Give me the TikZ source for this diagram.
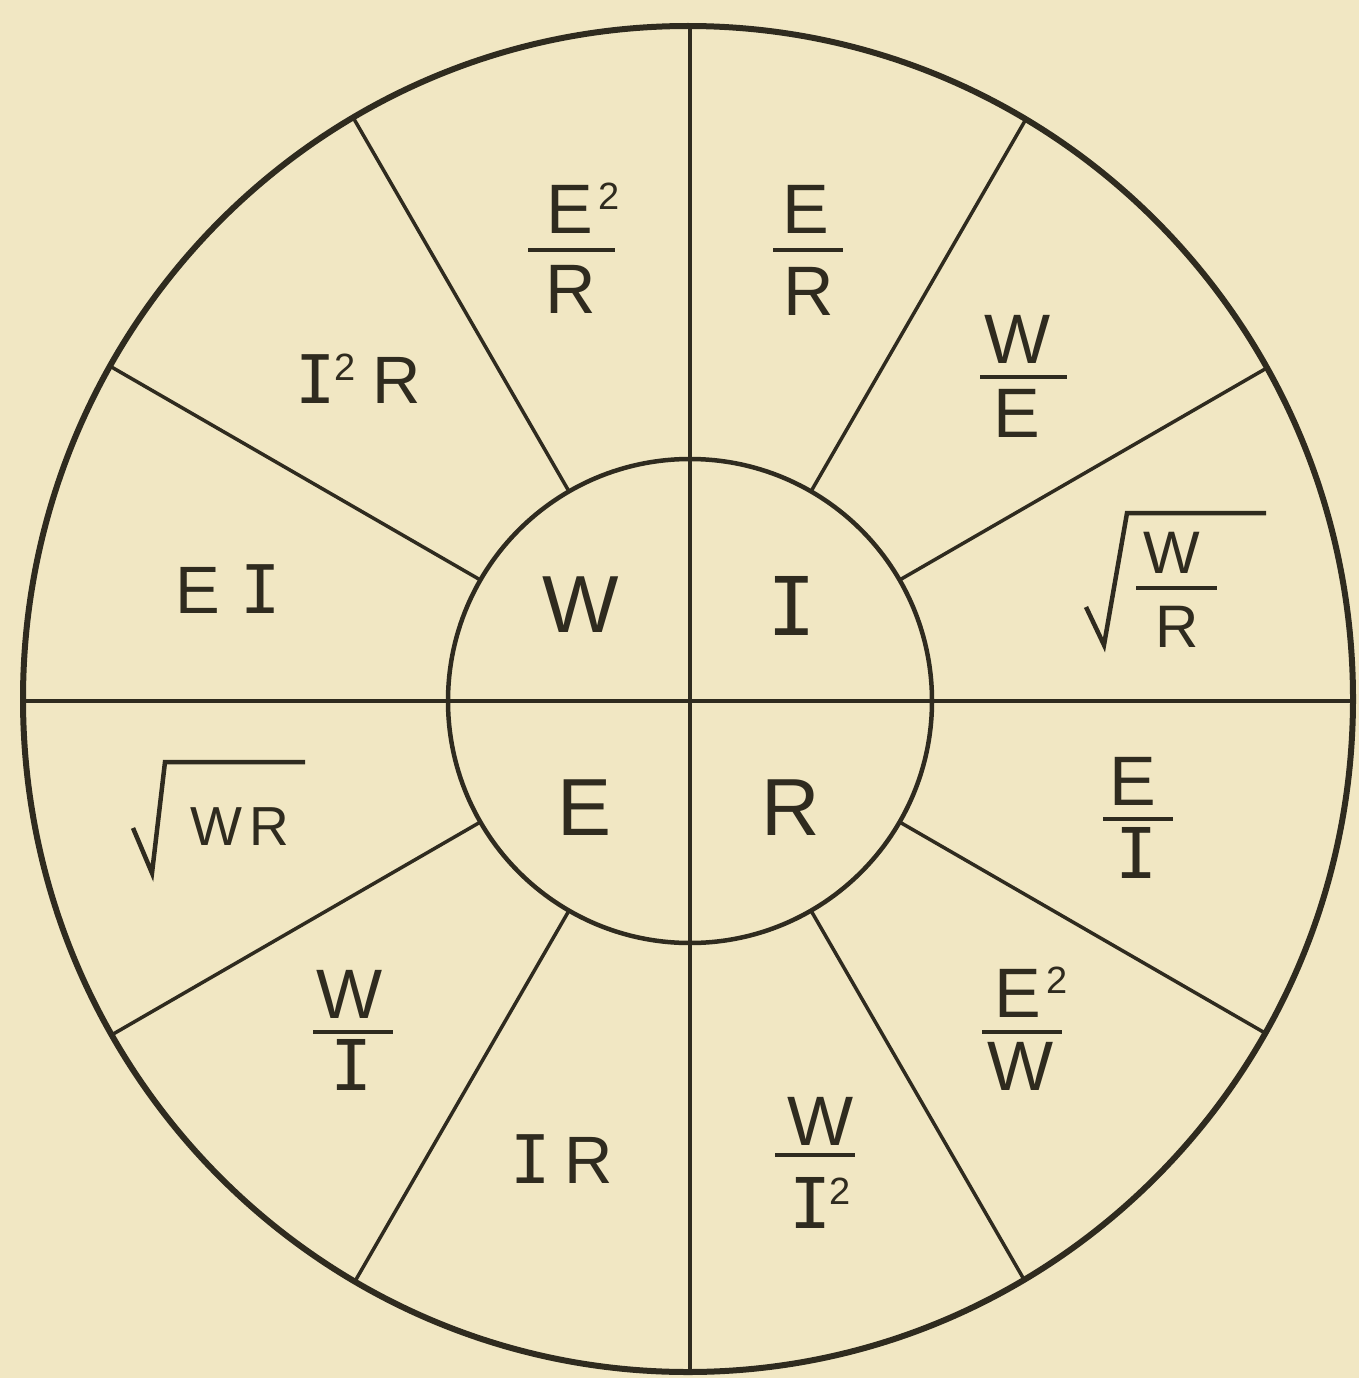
\documentclass[tikz,border=0pt]{standalone}
\usepackage{fontspec}
\setmainfont{Liberation Sans}
\newfontfamily\monoI{DejaVu Sans Mono}
\usetikzlibrary{calc}
\definecolor{paper}{HTML}{F1E7C3}
\definecolor{ink}{HTML}{2F2B1F}
\newcommand\Ii{{\monoI I}}
\newcommand\sq[1][0.08em]{\kern#1\raisebox{0.33em}{\fontsize{38}{38}\selectfont 2}}
\newcommand\fBig{\fontsize{81}{81}\selectfont}
\newcommand\fMid{\fontsize{70}{70}\selectfont}
\newcommand\fTxt{\fontsize{67}{67}\selectfont}
\newcommand\fRad{\fontsize{60}{60}\selectfont}
\newcommand\fRadB{\fontsize{55}{55}\selectfont}
\tikzset{
  lab/.style={inner sep=0pt, outer sep=0pt, anchor=base, text=ink},
  fracbar/.style={draw=ink, line width=4.5pt},
  radsign/.style={draw=ink, line width=4.5pt, line join=miter},
  outerring/.style={draw=ink, line width=6pt},
  innerring/.style={draw=ink, line width=4.5pt},
  diam/.style={draw=ink, line width=4.5pt},
  spoke/.style={draw=ink, line width=3.5pt}
}
\begin{document}
\begin{tikzpicture}[x=1pt, y=-1pt]
\fill[paper] (0,0) rectangle (1359,1378);
\useasboundingbox (0,0) rectangle (1359,1378);
\coordinate (c) at (690,701);
\coordinate (oc) at (688,699);
\begin{scope}
  \clip (oc) ellipse [x radius=665, y radius=673];
  \foreach \a in {30,60,120,150,210,240,300,330}
    \draw[spoke] ($(c)+(\a:242)$) -- ($(c)+(\a:720)$);
  \draw[diam] ($(c)+(-720,0)$) -- ($(c)+(720,0)$);
  \draw[diam] ($(c)+(0,-720)$) -- ($(c)+(0,720)$);
\end{scope}
\draw[outerring] (oc) ellipse [x radius=665, y radius=673];
\draw[innerring] (c) circle [radius=242];

% centre letters
\node[lab] (cW) at (581,632) {\fBig W};
\node[lab] (cI) at (792,635) {\fBig\Ii};
\node[lab] (cE) at (585,835) {\fBig E};
\node[lab] (cR) at (791,835) {\fBig R};

% E^2/R
\node[lab] (n1) at (583,233) {\fMid E\sq};
\node[lab] (d1) at (571,313) {\fMid R};
\coordinate (b1a) at (528,250); \coordinate (b1b) at (615,250);
\draw[fracbar] (b1a) -- (b1b);
% E/R
\node[lab] (n2) at (806,233) {\fMid E};
\node[lab] (d2) at (809,315) {\fMid R};
\coordinate (b2a) at (773,250); \coordinate (b2b) at (843,250);
\draw[fracbar] (b2a) -- (b2b);
% W/E
\node[lab] (n3) at (1018,363) {\fMid W};
\node[lab] (d3) at (1017,437) {\fMid E};
\coordinate (b3a) at (980,377); \coordinate (b3b) at (1067,377);
\draw[fracbar] (b3a) -- (b3b);
% sqrt(W/R)
\node[lab] (n4) at (1172,573) {\fRad W};
\node[lab] (d4) at (1177,647) {\fRad R};
\coordinate (b4a) at (1136,588); \coordinate (b4b) at (1217,588);
\draw[fracbar] (b4a) -- (b4b);
\coordinate (r4a) at (1086,607); \coordinate (r4b) at (1104,645);
\coordinate (r4c) at (1127,513); \coordinate (r4d) at (1266,513);
\draw[radsign] (r4a) -- (r4b) -- (r4c) -- (r4d);
% E/I
\node[lab] (n5) at (1133,805) {\fMid E};
\node[lab] (d5) at (1137,878) {\fMid\Ii};
\coordinate (b5a) at (1103,819); \coordinate (b5b) at (1173,819);
\draw[fracbar] (b5a) -- (b5b);
% E^2/W
\node[lab] (n6) at (1031,1017) {\fMid E\sq};
\node[lab] (d6) at (1021,1090) {\fMid W};
\coordinate (b6a) at (982,1032); \coordinate (b6b) at (1062,1032);
\draw[fracbar] (b6a) -- (b6b);
% W/I^2
\node[lab] (n7) at (821,1145) {\fMid W};
\node[lab] (d7) at (820,1228) {\fMid\Ii\sq[-0.02em]};
\coordinate (b7a) at (775,1155); \coordinate (b7b) at (855,1155);
\draw[fracbar] (b7a) -- (b7b);
% IR
\node[lab] (t8) at (562,1183) {\fTxt\Ii\kern0.2em R};
% W/I
\node[lab] (n9) at (350,1018) {\fMid W};
\node[lab] (d9) at (352,1090) {\fMid\Ii};
\coordinate (b9a) at (313,1032); \coordinate (b9b) at (393,1032);
\draw[fracbar] (b9a) -- (b9b);
% sqrt(WR)
\node[lab] (t10) at (240,845) {\fRadB W\kern0.12em R};
\coordinate (r10a) at (133,828); \coordinate (r10b) at (152,873);
\coordinate (r10c) at (165,762); \coordinate (r10d) at (305,762);
\draw[radsign] (r10a) -- (r10b) -- (r10c) -- (r10d);
% EI
\node[lab] (t11) at (228,613) {\fTxt E\kern0.3em\Ii};
% I^2R
\node[lab] (t12) at (358,403) {\fTxt\Ii\sq[-0.02em]\kern0.25em R};
\end{tikzpicture}
\end{document}
